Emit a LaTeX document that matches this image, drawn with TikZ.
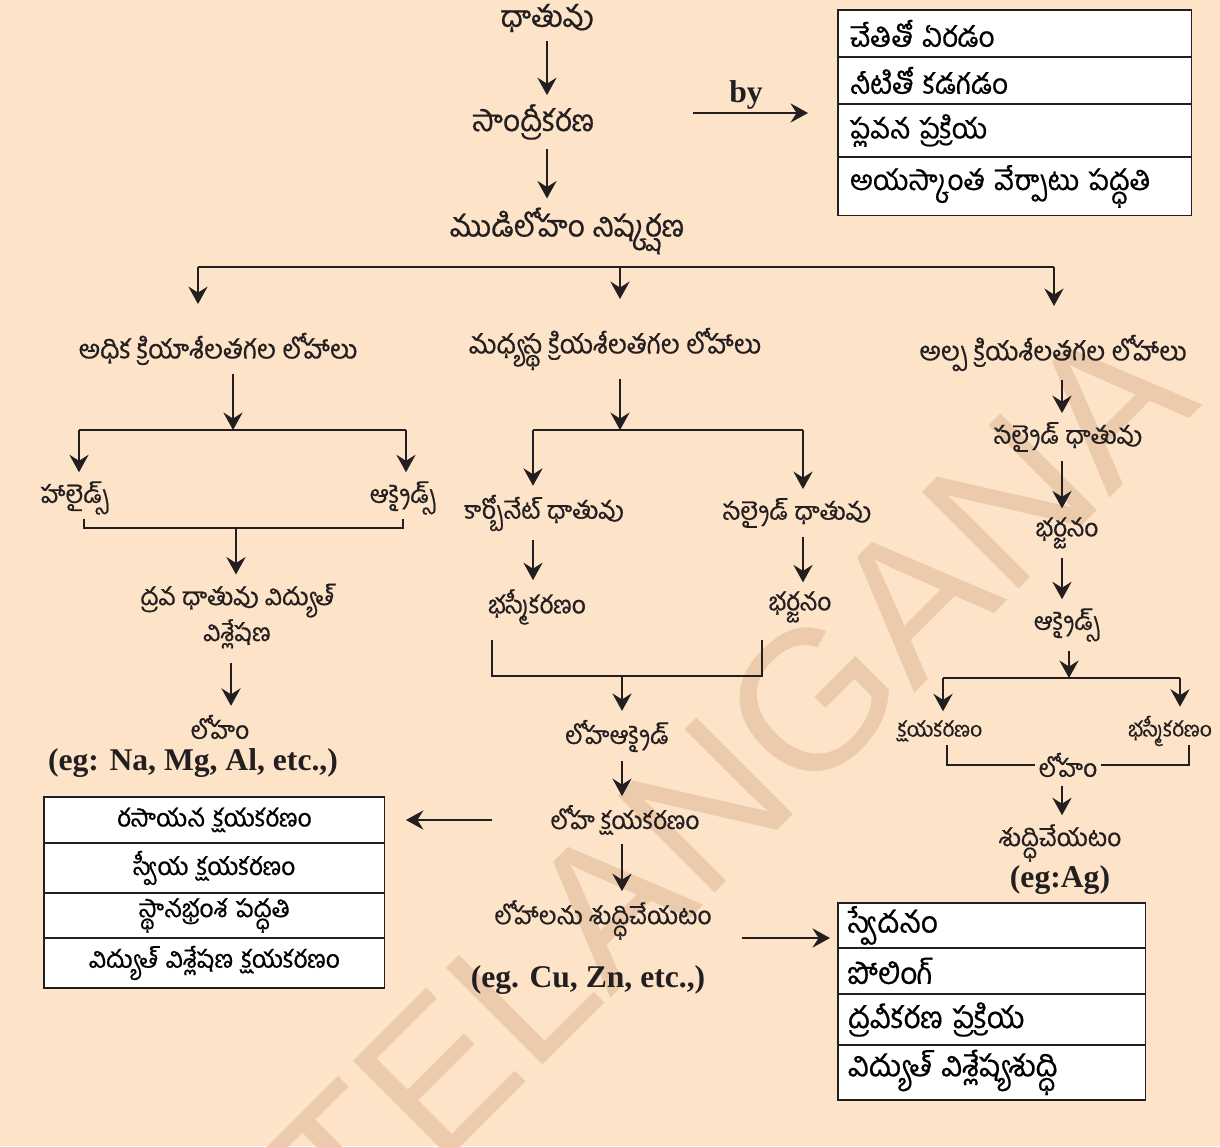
\documentclass[tikz,border=0pt]{standalone}
\usepackage{fontspec}
\setmainfont{Liberation Serif}
\newfontfamily\te[Script=Telugu,FakeBold=0.6]{Hind Guntur}
\newfontfamily\wmfont{Liberation Sans}
\usetikzlibrary{positioning,arrows.meta}
\definecolor{bgclr}{HTML}{FDE4C9}
\definecolor{wmclr}{HTML}{EBCBAB}
\definecolor{lineclr}{HTML}{231F20}

\begin{document}
\begin{tikzpicture}[
  x=0.02cm, y=-0.02cm,
  lbl/.style={font=\te\fontsize{14}{19}\selectfont, text=lineclr, inner sep=2pt},
  top/.style={lbl, font=\te\fontsize{17}{21}\selectfont},
  head/.style={lbl, font=\te\fontsize{15}{19}\selectfont},
  sml/.style={lbl, font=\te\fontsize{12}{16}\selectfont},
  eg/.style={font=\bfseries\fontsize{18}{20}\selectfont, text=lineclr, inner sep=1pt},
  cell/.style={draw=lineclr, line width=0.6pt, fill=white, inner ysep=0pt, outer sep=0pt},
  ocell/.style={cell, font=\te\fontsize{16}{21}\selectfont, inner xsep=0.24cm, text width=6.6cm, align=left},
  rcell/.style={cell, font=\te\fontsize{17}{21}\selectfont, inner xsep=0.2cm, text width=5.76cm, align=left},
  ccell/.style={cell, font=\te\fontsize{14}{19}\selectfont, inner xsep=0pt, text width=6.82cm, align=center},
  arr/.style={-{Stealth[length=10pt,width=11pt,inset=3.5pt]}, line width=0.6pt, draw=lineclr,
    shorten <=3pt, shorten >=3pt},
  ln/.style={line width=0.6pt, draw=lineclr},
  wm/.style={font=\wmfont\fontsize{113}{113}\selectfont, text=wmclr, rotate=45},
]

% Page and watermark
\useasboundingbox (0,0) rectangle (1220,1146);
\begin{scope}
  \clip (0,0) rectangle (1220,1146);
  \fill[bgclr] (0,0) rectangle (1220,1146);
  \node[wm] (wmark) at (470,1058) {SCERT, TELANGANA};
\end{scope}

% Concentration
\node[top] (ore)   at (547,18)  {ధాతువు};
\node[top] (conc)  at (533,122) {సాంద్రీకరణ};
\node[top] (crude) at (567,231) {ముడిలోహం నిష్కర్షణ};
\draw[arr] (ore) -- (ore |- conc.north);
\draw[arr] (ore |- conc.south) -- (ore |- crude.north);

% Methods of concentration
\node[ocell, minimum height=0.94cm, anchor=north west] (con1) at (838,10) {చేతితో ఏరడం};
\node[ocell, minimum height=0.94cm, below=0pt of con1] (con2) {నీటితో కడగడం};
\node[ocell, minimum height=1.06cm, below=0pt of con2] (con3) {ప్లవన ప్రక్రియ};
\node[ocell, minimum height=1.18cm, below=0pt of con3] (con4) {అయస్కాంత వేర్పాటు పద్ధతి};
\node[eg] (by) at (746,95) {by};
\coordinate (bystart) at (693,113);
\draw[arr, shorten <=0pt, shorten >=0.6cm] (bystart) -- (bystart -| con1.west);

% Three branches
\node[head] (high) at (218,349)  {అధిక క్రియాశీలతగల లోహాలు};
\node[head] (mid)  at (615,349)  {మధ్యస్థ క్రియశీలతగల లోహాలు};
\node[head] (low)  at (1053,353) {అల్ప క్రియశీలతగల లోహాలు};
\coordinate (b1) at (198,267);
\coordinate (b2) at (620,267);
\coordinate (b3) at (1054,267);
\draw[ln] (b1) -- (b3);
\foreach \c/\n in {b1/high, b2/mid, b3/low}
  \draw[arr, shorten <=0pt, shorten >=0.5cm] (\c) -- (\c |- \n.north);

% High reactivity
\node[lbl] (halide) at (75,498)  {హాలైడ్స్};
\node[lbl] (hoxide) at (403,498) {ఆక్సైడ్స్};
\coordinate (hj) at (233,430);
\draw[arr, shorten >=0pt] (hj |- high.south) -- (hj);
\draw[ln] (79,430) coordinate (hj1) -- (406,430) coordinate (hj2);
\draw[arr, shorten <=0pt] (hj1) -- (hj1 |- halide.north);
\draw[arr, shorten <=0pt] (hj2) -- (hj2 |- hoxide.north);
\coordinate (hm) at (236,528);
\draw[ln] ([xshift=0.18cm]halide.south) |- (hm) -| (hoxide.south);
\node[lbl, align=center] (molten) at (237,616) {ద్రవ ధాతువు విద్యుత్\\విశ్లేషణ};
\draw[arr, shorten <=0pt] (hm) -- (hm |- molten.north);
\node[lbl] (hmetal) at (220,727) {లోహం};
\node[eg]  (heg)    at (193,763) {(eg: Na, Mg, Al, etc.,)};
\draw[arr] (231,658) coordinate (hk) -- (hk |- hmetal.north);

% Methods of reduction
\node[ccell, minimum height=0.92cm, anchor=north west] (red1) at (44,797) {రసాయన క్షయకరణం};
\node[ccell, minimum height=1.0cm,  below=0pt of red1] (red2) {స్వీయ క్షయకరణం};
\node[ccell, minimum height=0.9cm,  below=0pt of red2] (red3) {స్థానభ్రంశ పద్ధతి};
\node[ccell, minimum height=1.0cm,  below=0pt of red3] (red4) {విద్యుత్ విశ్లేషణ క్షయకరణం};

% Medium reactivity
\node[lbl] (carb)  at (544,513) {కార్బోనేట్ ధాతువు};
\node[lbl] (msulf) at (797,513) {సల్ఫైడ్ ధాతువు};
\coordinate (mj) at (620,430);
\draw[arr, shorten >=0pt] (mj |- mid.south) -- (mj);
\draw[ln] (533,430) coordinate (mj1) -- (803,430) coordinate (mj2);
\draw[arr, shorten <=0pt] (mj1) -- (mj1 |- carb.north);
\draw[arr, shorten <=0pt] (mj2) -- (mj2 |- msulf.north);
\node[lbl] (mcalc)  at (537,607) {భస్మీకరణం};
\node[lbl] (mroast) at (800,607) {భర్జనం};
\draw[arr] (mj1 |- carb.south) -- (mj1 |- mcalc.north);
\draw[arr] (mj2 |- msulf.south) -- (mj2 |- mroast.north);
\coordinate (mm) at (622,676);
\draw[ln] (492,640) coordinate (mk1) |- (mm) -| (762,640) coordinate (mk2);
\node[lbl] (mox)  at (617,736) {లోహఆక్సైడ్};
\node[lbl] (mred) at (625,820) {లోహ క్షయకరణం};
\node[lbl] (mref) at (603,920) {లోహాలను శుద్ధిచేయటం};
\node[eg]  (meg)  at (588,980) {(eg. Cu, Zn, etc.,)};
\draw[arr, shorten <=0pt] (mm) -- (mm |- mox.north);
\draw[arr] (mm |- mox.south) -- (mm |- mred.north);
\draw[arr] (mm |- mred.south) -- (mm |- mref.north);
\draw[arr, shorten <=1.1cm, shorten >=0.42cm] (mred.west) -- (mred.west -| red1.east);

% Methods of refining
\node[rcell, minimum height=0.9cm, anchor=north west] (pur1) at (838,903) {స్వేదనం};
\node[rcell, minimum height=0.92cm, below=0pt of pur1] (pur2) {పోలింగ్};
\node[rcell, minimum height=1.02cm, below=0pt of pur2] (pur3) {ద్రవీకరణ ప్రక్రియ};
\node[rcell, minimum height=1.1cm,  below=0pt of pur3] (pur4) {విద్యుత్ విశ్లేష్యశుద్ధి};
\coordinate (pa) at (742,938);
\draw[arr, shorten <=0pt, shorten >=0.16cm] (pa) -- (pa -| pur1.west);

% Low reactivity
\node[lbl] (lsulf)  at (1068,437) {సల్ఫైడ్ ధాతువు};
\node[lbl] (lroast) at (1067,533) {భర్జనం};
\node[lbl] (lox)    at (1067,625) {ఆక్సైడ్స్};
\coordinate (lc) at (1062,380);
\draw[arr] (lc |- low.south) -- (lc |- lsulf.north);
\draw[arr] (lc |- lsulf.south) -- (lc |- lroast.north);
\draw[arr] (lc |- lroast.south) -- (lc |- lox.north);
\coordinate (lj) at (1069,678);
\draw[arr, shorten >=0pt] (lj |- lox.south) -- (lj);
\draw[ln] (943,678) coordinate (lj1) -- (1180,678) coordinate (lj2);
\node[sml] (lred)  at (940,731)  {క్షయకరణం};
\node[sml] (lcalc) at (1170,731) {భస్మీకరణం};
\draw[arr, shorten <=0pt] (lj1) -- (lj1 |- lred.north);
\draw[arr, shorten <=0pt] (lj2) -- (lj2 |- lcalc.north);
\node[lbl] (lmetal) at (1068,765) {లోహం};
\draw[ln] (947,745) coordinate (lk1) |- (lmetal.west);
\draw[ln] (1189,745) coordinate (lk2) |- (lmetal.east);
\node[lbl] (lpur) at (1060,843) {శుద్ధిచేయటం};
\node[eg]  (leg)  at (1060,880) {(eg:Ag)};
\draw[arr] (lc |- lmetal.south) -- (lc |- lpur.north);

\end{tikzpicture}
\end{document}
